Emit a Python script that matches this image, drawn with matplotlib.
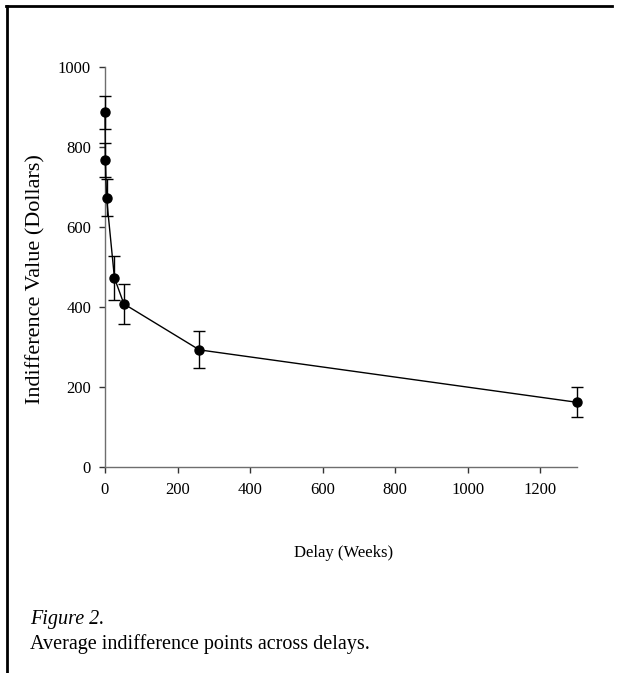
import numpy as np
import matplotlib
matplotlib.use("Agg")
import matplotlib.pyplot as plt
from matplotlib.lines import Line2D

plt.rcParams['font.family'] = ['Liberation Serif', 'DejaVu Serif']
plt.rcParams['font.size'] = 12

# average indifference points (dollars) by delay (weeks)
delay_weeks = [0.14, 1, 4.3, 26, 52, 260, 1300]
indiff_value = [886, 766, 672, 472, 407, 292, 161]
std_err = [41, 42, 46, 55, 50, 46, 38]

x_ticks = [0, 200, 400, 600, 800, 1000, 1200]
y_ticks = [0, 200, 400, 600, 800, 1000]

fig = plt.figure(figsize=(6.18, 6.73), dpi=100)
ax = fig.add_axes([0.1699, 0.3066, 0.7632, 0.5943])

ax.errorbar(delay_weeks, indiff_value, yerr=std_err, color='black', lw=1,
            marker='o', markersize=6.5, elinewidth=1, capsize=4, capthick=1,
            clip_on=False, zorder=3)

ax.set_xlim(0, 1300)
ax.set_ylim(0, 1000)
ax.set_xticks(x_ticks)
ax.set_yticks(y_ticks)

for side in ['top', 'right']:
    ax.spines[side].set_visible(False)
for side in ['left', 'bottom']:
    ax.spines[side].set_color('#6e6e6e')
    ax.spines[side].set_linewidth(1)
ax.tick_params(axis='both', direction='out', length=4, width=1,
               color='#333333', labelsize=12)
ax.tick_params(axis='y', pad=6)
ax.tick_params(axis='x', pad=7)

ax.set_xlabel('Delay (Weeks)', fontsize=12)
ax.set_ylabel('Indifference Value (Dollars)', fontsize=16)
ax.xaxis.set_label_coords(0.505, -0.195)
ax.yaxis.set_label_coords(-0.127, 0.47)

# caption below the chart
fig.text(30 / 618, 1 - 624 / 673, 'Figure 2.', fontsize=14.5, style='italic',
         va='baseline', ha='left')
fig.text(30 / 618, 1 - 649 / 673, 'Average indifference points across delays.',
         fontsize=14.5, va='baseline', ha='left')

# frame lines at top and left
fig.add_artist(Line2D([6 / 618, 612 / 618], [1 - 6 / 673, 1 - 6 / 673],
                      transform=fig.transFigure, color='black', lw=2))
fig.add_artist(Line2D([7 / 618, 7 / 618], [1 - 6 / 673, 0],
                      transform=fig.transFigure, color='black', lw=2))

fig.savefig('out.png', dpi=100)
